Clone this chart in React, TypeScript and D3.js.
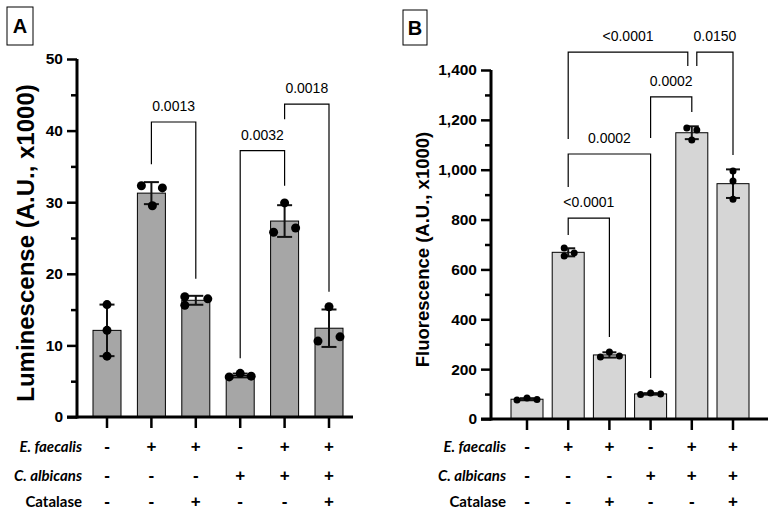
import React, { useEffect, useRef } from 'react'
import * as d3 from 'd3'

// conditions below each bar
const rowNames = ['E. faecalis', 'C. albicans', 'Catalase']
const eFaecalis = ['-', '+', '+', '-', '+', '+']
const cAlbicans = ['-', '-', '-', '+', '+', '+']
const catalase = ['-', '-', '+', '-', '-', '+']

// panel A: luminescence replicates (A.U., x1000)
const lumReplicates = [
  [15.7, 12.1, 8.5],
  [32.3, 32.0, 29.5],
  [16.8, 15.6, 16.5],
  [5.6, 6.1, 5.7],
  [29.9, 25.8, 26.4],
  [15.4, 10.6, 11.2],
]
const lumTicks = [0, 10, 20, 30, 40, 50]
const lumMinorTicks = [5, 15, 25, 35, 45]
// [from, to, top, left leg end, right leg end]
const lumPairs = [
  [1, 2, 41.2, 35.3, 19.3],
  [3, 4, 37.2, 8.2, 32.3],
  [4, 5, 43.7, 41.6, 17.5],
]
const lumPLabels = ['0.0013', '0.0032', '0.0018']

// panel B: fluorescence replicates (A.U., x1000)
const fluoReplicates = [
  [76, 84, 78],
  [686, 654, 666],
  [249, 269, 253],
  [98, 104, 100],
  [1167, 1159, 1119],
  [995, 955, 882],
]
const fluoTicks = [0, 200, 400, 600, 800, 1000, 1200, 1400]
const fluoMinorTicks = [100, 300, 500, 700, 900, 1100, 1300]
const fluoPairs = [
  [1, 4, 1472, 1123, 1416],
  [4, 5, 1472, 1416, 1059],
  [3, 4, 1292, 1127, 1232],
  [1, 3, 1063, 931, 164],
  [1, 2, 806, 738, 329],
]
const fluoPLabels = ['<0.0001', '0.0150', '0.0002', '0.0002', '<0.0001']

type PanelCfg = {
  letter: string
  box: [number, number, number, number]
  title: string
  titleSize: number
  titleX: number
  replicates: number[][]
  ticks: number[]
  minor: number[]
  fmt: (d: number) => string
  domain: [number, number]
  yRange: [number, number]
  xRange: [number, number]
  axisX: number
  axisEnd: number
  barW: number
  fill: string
  dotR: number
  capW: number
  jitter: number[][]
  pairs: number[][]
  pLabels: string[]
  legNudge: number[][]
  rowLabelX: number
}

const panels: PanelCfg[] = [
  {
    letter: 'A', box: [7, 7, 26, 38],
    title: 'Luminescense (A.U., x1000)', titleSize: 24, titleX: 25,
    replicates: lumReplicates, ticks: lumTicks, minor: lumMinorTicks,
    fmt: d3.format('d'), domain: [0, 50], yRange: [417, 59], xRange: [107, 329],
    axisX: 77, axisEnd: 353, barW: 28, fill: '#a6a6a6', dotR: 4.5, capW: 15,
    jitter: [[0, 0, 0], [-10, 11, 1], [-11, -11, 12], [-11, 0, 11], [0, -11, 11], [0, -11, 11]],
    pairs: lumPairs, pLabels: lumPLabels,
    legNudge: [[0, 0], [0, 0], [0, 0]],
    rowLabelX: 82,
  },
  {
    letter: 'B', box: [403, 10, 24, 35],
    title: 'Fluorescence (A.U., x1000)', titleSize: 18.5, titleX: 422,
    replicates: fluoReplicates, ticks: fluoTicks, minor: fluoMinorTicks,
    fmt: d3.format(','), domain: [0, 1400], yRange: [419, 70], xRange: [527, 733],
    axisX: 491, axisEnd: 768, barW: 32, fill: '#d6d6d6', dotR: 3.5, capW: 14,
    jitter: [[-10, 0, 10], [-4, -4, 6], [-9, 0, 10], [-10, 0, 10], [-5, 5, 0], [0, 0, 0]],
    pairs: fluoPairs, pLabels: fluoPLabels,
    legNudge: [[0, -4], [5, 0], [0, 0], [0, 0], [0, 0]],
    rowLabelX: 506,
  },
]

const rowY = [447, 476, 502]

const App = () => {
  const svgRef = useRef<SVGSVGElement>(null)

  useEffect(() => {
    const svg = d3.select(svgRef.current)
    svg.selectAll('*').remove()

    panels.forEach(p => {
      const g = svg.append('g')
      const idx = p.replicates.map((_, i) => i)
      const x = d3.scalePoint<number>().domain(idx).range(p.xRange)
      const y = d3.scaleLinear().domain(p.domain).range(p.yRange)
      const y0 = p.yRange[0]

      // panel letter
      g.append('rect')
        .attr('x', p.box[0]).attr('y', p.box[1])
        .attr('width', p.box[2]).attr('height', p.box[3])
        .attr('fill', 'none').attr('stroke', '#000').attr('stroke-width', 1)
      g.append('text')
        .attr('x', p.box[0] + p.box[2] / 2).attr('y', p.box[1] + p.box[3] / 2)
        .attr('text-anchor', 'middle').attr('dominant-baseline', 'central')
        .style('font', 'bold 20px "Liberation Sans", Arial, sans-serif')
        .text(p.letter)

      // bars
      const stats = p.replicates.map(r => ({ m: d3.mean(r) as number, sd: d3.deviation(r) as number }))
      g.selectAll('rect.bar').data(stats).enter().append('rect')
        .attr('class', 'bar')
        .attr('x', (_, i) => (x(i) as number) - p.barW / 2)
        .attr('y', d => y(d.m))
        .attr('width', p.barW)
        .attr('height', d => y0 - y(d.m))
        .attr('fill', p.fill).attr('stroke', '#000').attr('stroke-width', 1)

      // error bars
      stats.forEach((s, i) => {
        const cx = x(i) as number
        const eg = g.append('g').attr('stroke', '#111').attr('stroke-width', 2)
        eg.append('line').attr('x1', cx).attr('x2', cx).attr('y1', y(s.m - s.sd)).attr('y2', y(s.m + s.sd))
        eg.append('line').attr('x1', cx - p.capW / 2).attr('x2', cx + p.capW / 2).attr('y1', y(s.m + s.sd)).attr('y2', y(s.m + s.sd))
        eg.append('line').attr('x1', cx - p.capW / 2).attr('x2', cx + p.capW / 2).attr('y1', y(s.m - s.sd)).attr('y2', y(s.m - s.sd))
      })

      // replicate dots
      p.replicates.forEach((r, i) => {
        g.selectAll(null).data(r).enter().append('circle')
          .attr('cx', (_, j) => (x(i) as number) + p.jitter[i][j])
          .attr('cy', d => y(d))
          .attr('r', p.dotR)
          .attr('fill', '#000')
      })

      // y axis
      const ya = g.append('g').attr('transform', `translate(${p.axisX},0)`)
      ya.call(d3.axisLeft(y).tickValues(p.ticks).tickSize(10).tickPadding(4).tickFormat(d => p.fmt(d as number)))
      ya.select('.domain').attr('stroke-width', 3).attr('d', `M0,${y0 + 1.5}V${p.yRange[1]}`)
      ya.selectAll('.tick line').attr('stroke-width', 2.5)
      ya.selectAll('.tick text')
        .style('font', 'bold 15.5px "Liberation Sans", Arial, sans-serif')
        .attr('fill', '#000')
      const ym = g.append('g').attr('transform', `translate(${p.axisX},0)`)
      ym.call(d3.axisLeft(y).tickValues(p.minor).tickSize(6).tickFormat(() => ''))
      ym.select('.domain').remove()
      ym.selectAll('.tick line').attr('stroke-width', 2.5)

      // y title
      g.append('text')
        .attr('transform', `translate(${p.titleX},${(p.yRange[0] + p.yRange[1]) / 2 + 5}) rotate(-90)`)
        .attr('text-anchor', 'middle').attr('dominant-baseline', 'central')
        .style('font', `bold ${p.titleSize}px "Liberation Sans", Arial, sans-serif`)
        .text(p.title)

      // x axis
      g.append('line')
        .attr('x1', p.axisX - 10).attr('x2', p.axisEnd)
        .attr('y1', y0).attr('y2', y0)
        .attr('stroke', '#000').attr('stroke-width', 3)
      g.selectAll(null).data(idx).enter().append('line')
        .attr('x1', d => x(d) as number).attr('x2', d => x(d) as number)
        .attr('y1', y0).attr('y2', y0 + 11)
        .attr('stroke', '#000').attr('stroke-width', 2.5)

      // comparison brackets
      p.pairs.forEach((b, k) => {
        const xl = (x(b[0]) as number) + p.legNudge[k][0]
        const xr = (x(b[1]) as number) + p.legNudge[k][1]
        const path = d3.path()
        path.moveTo(xl, y(b[3]))
        path.lineTo(xl, y(b[2]))
        path.lineTo(xr, y(b[2]))
        path.lineTo(xr, y(b[4]))
        g.append('path').attr('d', path.toString())
          .attr('fill', 'none').attr('stroke', '#000').attr('stroke-width', 1.2)
        g.append('text')
          .attr('x', (xl + xr) / 2).attr('y', y(b[2]) - 11)
          .attr('text-anchor', 'middle')
          .style('font', '14px "Liberation Sans", Arial, sans-serif')
          .text(p.pLabels[k])
      })

      // condition table
      const rows = [eFaecalis, cAlbicans, catalase]
      rows.forEach((signs, r) => {
        g.append('text')
          .attr('x', p.rowLabelX).attr('y', rowY[r] + 5)
          .attr('text-anchor', 'end')
          .style('font', `${r < 2 ? 'italic ' : ''}bold 15px Lato, sans-serif`)
          .text(rowNames[r])
        g.selectAll(null).data(signs).enter().append('text')
          .attr('x', (_, i) => x(i) as number).attr('y', rowY[r] + 5)
          .attr('text-anchor', 'middle')
          .style('font', 'bold 17px "Liberation Sans", Arial, sans-serif')
          .text(d => d)
      })
    })
  }, [])

  return (
    <svg ref={svgRef} width={776} height={512}
      style={{ position: 'absolute', left: 0, top: 0, background: '#fff' }} />
  )
}

export default App
